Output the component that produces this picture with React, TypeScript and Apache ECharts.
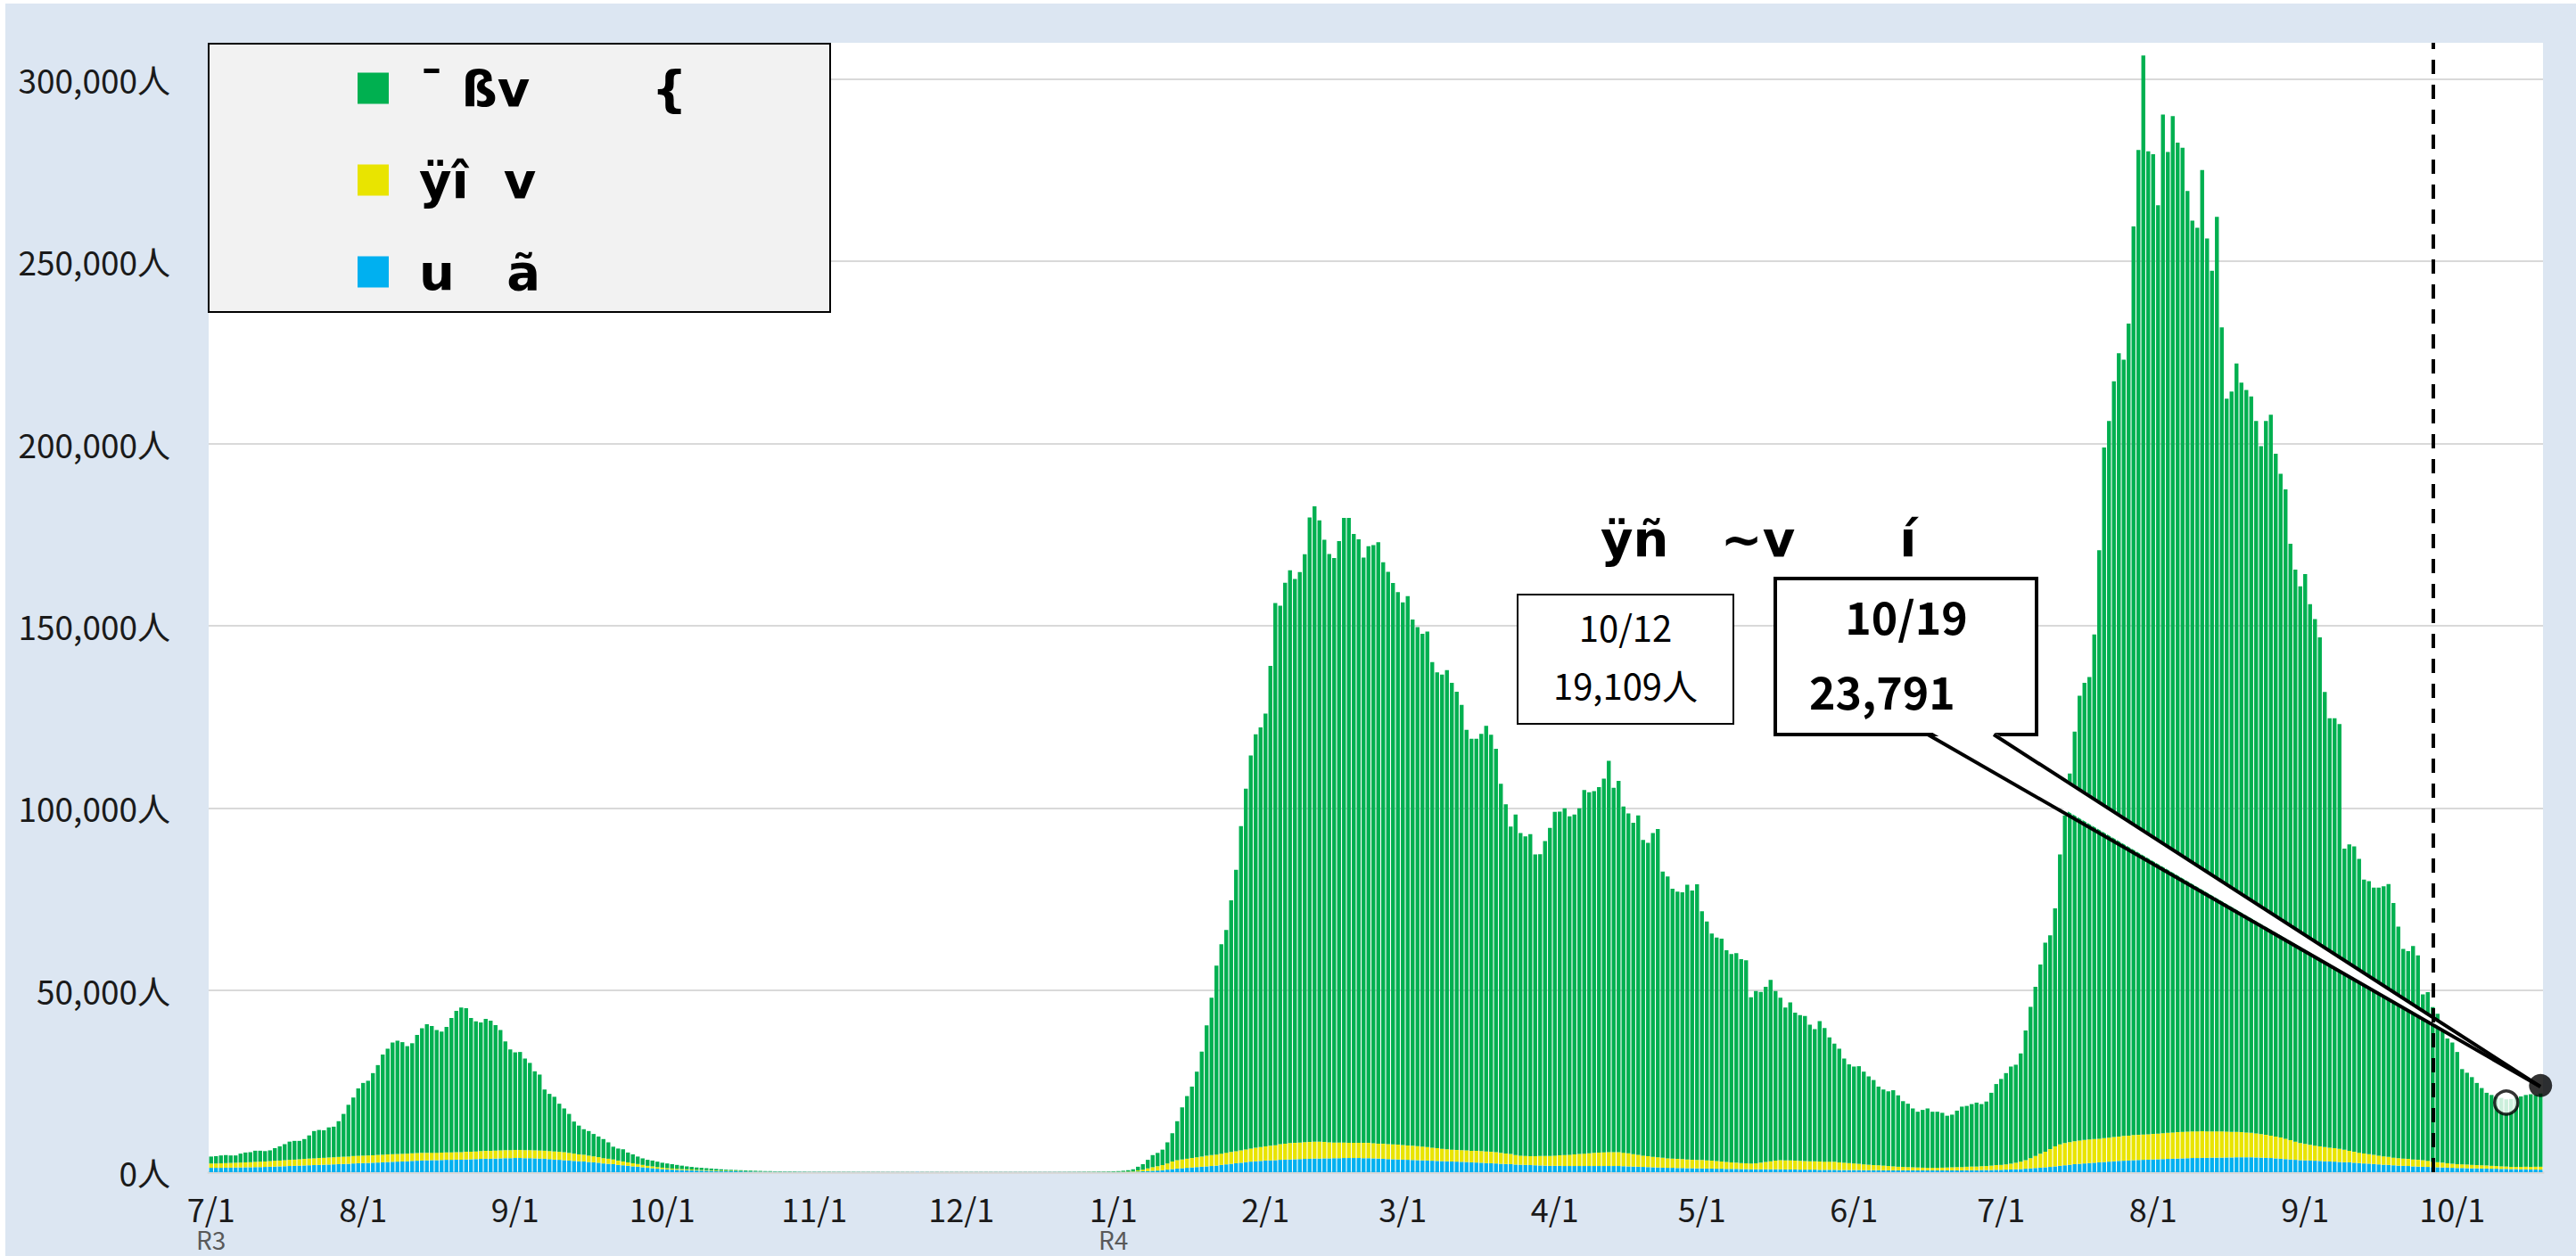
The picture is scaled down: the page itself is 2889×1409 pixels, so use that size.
import React, { useEffect, useRef } from "react";
import * as echarts from "echarts";

// ---- data (thousand persons per day), 2021-07-01 .. 2022-10-19 ----
const totalK = [
  // 2021-07
  4.3, 4.4, 4.6, 4.7, 4.6, 4.6, 5.1, 5.4, 5.5, 5.9, 5.9, 5.8, 6.0, 6.6, 7.1, 7.7, 8.4, 8.6, 8.6, 9.1, 10.1, 11.3, 11.6, 11.5, 12.3, 12.5, 14.0, 16.0, 18.5, 20.5, 23.0,
  // 2021-08
  24.5, 25.1, 27.2, 29.4, 32.3, 33.9, 35.6, 36.1, 35.7, 34.6, 35.4, 37.7, 39.5, 40.6, 40.1, 39.0, 38.6, 39.9, 42.3, 44.3, 45.2, 45.0, 42.3, 41.4, 41.1, 42.1, 41.6, 40.4, 39.0, 35.9, 33.7,
  // 2021-09
  32.9, 33.0, 31.2, 30.0, 27.7, 26.8, 22.7, 21.5, 20.7, 18.8, 17.5, 16.0, 13.9, 12.8, 11.8, 11.3, 10.5, 9.8, 9.1, 8.2, 7.0, 6.5, 6.3, 5.4, 4.9, 4.3, 3.8, 3.4, 3.2, 2.9,
  // 2021-10
  2.6, 2.4, 2.2, 2.0, 1.8, 1.6, 1.45, 1.3, 1.2, 1.1, 1.0, 0.9, 0.8, 0.7, 0.65, 0.6, 0.55, 0.5, 0.45, 0.4, 0.35, 0.3, 0.3, 0.25, 0.25, 0.2, 0.2, 0.2, 0.15, 0.15, 0.12,
  // 2021-11
  0.12, 0.12, 0.11, 0.11, 0.1, 0.1, 0.1, 0.1, 0.1, 0.09, 0.09, 0.09, 0.09, 0.09, 0.08, 0.08, 0.08, 0.08, 0.08, 0.08, 0.08, 0.08, 0.08, 0.08, 0.08, 0.08, 0.08, 0.08, 0.08, 0.08,
  // 2021-12
  0.08, 0.08, 0.08, 0.08, 0.08, 0.08, 0.08, 0.08, 0.08, 0.08, 0.08, 0.08, 0.08, 0.08, 0.08, 0.08, 0.08, 0.08, 0.08, 0.08, 0.09, 0.09, 0.1, 0.1, 0.11, 0.12, 0.13, 0.14, 0.16, 0.18, 0.2,
  // 2022-01
  0.25, 0.3, 0.4, 0.55, 0.8, 1.5, 2.2, 3.4, 4.7, 5.3, 6.2, 8.2, 10.7, 14.0, 17.8, 20.9, 23.5, 27.6, 33.1, 40.3, 47.9, 56.7, 62.6, 66.5, 74.6, 83.0, 95.0, 105.3, 114.4, 120.2, 122.1,
  // 2022-02
  125.9, 139.0, 156.2, 155.5, 161.8, 165.2, 162.8, 164.7, 169.6, 179.7, 182.8, 178.9, 173.6, 169.7, 168.6, 173.2, 179.6, 179.6, 175.2, 173.7, 168.7, 171.8, 172.1, 172.9, 167.4, 164.8, 161.7, 159.2,
  // 2022-03
  156.4, 158.1, 151.7, 149.6, 147.8, 148.4, 140.0, 137.2, 136.6, 137.8, 134.3, 131.9, 128.3, 121.4, 119.0, 119.0, 120.3, 122.5, 120.1, 116.2, 106.6, 101.0, 94.9, 98.2, 93.1, 92.2, 92.8, 87.2, 87.3, 90.9, 94.5,
  // 2022-04
  98.9, 99.0, 99.9, 97.7, 98.2, 99.9, 104.9, 104.3, 104.6, 105.7, 108.0, 112.9, 105.5, 107.4, 100.4, 98.5, 95.9, 97.9, 91.2, 90.4, 93.1, 94.2, 82.5, 81.2, 77.8, 77.0, 76.8, 78.9, 77.3, 79.0,
  // 2022-05
  71.6, 68.8, 65.5, 64.4, 64.1, 60.9, 59.9, 60.1, 58.5, 58.2, 48.0, 49.7, 49.5, 50.9, 52.8, 49.7, 47.9, 45.2, 46.6, 43.8, 43.1, 42.9, 40.5, 39.3, 41.5, 39.6, 37.0, 35.3, 33.9, 31.2, 29.6,
  // 2022-06
  29.0, 29.1, 27.6, 26.3, 25.3, 23.5, 22.7, 22.2, 22.5, 21.1, 19.5, 18.8, 17.5, 16.6, 17.1, 17.5, 16.6, 16.6, 16.3, 15.5, 15.8, 16.9, 18.0, 18.2, 18.7, 19.1, 18.7, 19.4, 21.8, 24.2,
  // 2022-07
  25.6, 27.2, 29.0, 29.5, 32.6, 38.9, 45.4, 50.9, 57.0, 63.0, 65.0, 72.4, 87.2, 97.9, 109.4, 120.9, 130.8, 134.3, 135.9, 147.6, 170.7, 198.9, 206.2, 217.1, 224.8, 223.0, 232.9, 259.6, 280.6, 306.5, 280.2,
  // 2022-08
  279.4, 265.4, 290.3, 280.0, 289.9, 282.6, 281.2, 269.3, 261.2, 259.2, 275.1, 256.3, 247.4, 262.2, 231.9, 212.3, 214.3, 222.0, 216.7, 214.7, 212.9, 206.2, 199.3, 206.2, 207.9, 197.2, 191.7, 187.4, 172.5, 165.4, 160.8,
  // 2022-09
  164.2, 155.9, 151.8, 146.8, 131.8, 124.6, 124.6, 123.0, 88.8, 90.0, 89.4, 86.0, 80.3, 79.9, 78.1, 78.1, 78.5, 79.1, 73.9, 67.4, 61.3, 60.7, 62.1, 59.5, 48.8, 49.4, 45.3, 43.5, 39.2, 36.7,
  // 2022-10
  35.6, 33.0, 28.3, 27.3, 26.1, 24.5, 23.1, 21.8, 21.2, 20.6, 20.4, 20.0, 20.1, 20.6, 20.8, 21.2, 21.4, 21.2, 21.6,
];

// blue series (thousand persons)
const hospitalK = [
  // 2021-07
  1.2, 1.2, 1.2, 1.25, 1.25, 1.3, 1.3, 1.35, 1.35, 1.4, 1.4, 1.45, 1.5, 1.55, 1.6, 1.65, 1.7, 1.75, 1.8, 1.85, 1.9, 1.95, 2.0, 2.05, 2.1, 2.15, 2.2, 2.25, 2.3, 2.4, 2.45,
  // 2021-08
  2.5, 2.55, 2.6, 2.65, 2.7, 2.8, 2.85, 2.9, 2.95, 3.0, 3.1, 3.15, 3.2, 3.25, 3.3, 3.3, 3.35, 3.4, 3.4, 3.45, 3.45, 3.5, 3.55, 3.6, 3.65, 3.7, 3.7, 3.75, 3.8, 3.85, 3.85,
  // 2021-09
  3.9, 3.9, 3.85, 3.85, 3.8, 3.75, 3.7, 3.6, 3.45, 3.4, 3.3, 3.2, 3.1, 3.0, 2.95, 2.8, 2.7, 2.6, 2.4, 2.3, 2.2, 2.0, 1.9, 1.75, 1.6, 1.5, 1.35, 1.2, 1.1, 0.95,
  // 2021-10
  0.85, 0.75, 0.7, 0.65, 0.6, 0.55, 0.5, 0.45, 0.42, 0.4, 0.37, 0.34, 0.31, 0.28, 0.26, 0.24, 0.22, 0.2, 0.19, 0.18, 0.16, 0.15, 0.14, 0.13, 0.12, 0.11, 0.1, 0.1, 0.09, 0.08, 0.07,
  // 2021-11
  0.06, 0.06, 0.05, 0.05, 0.05, 0.05, 0.05, 0.05, 0.05, 0.05, 0.05, 0.05, 0.05, 0.05, 0.05, 0.05, 0.05, 0.05, 0.05, 0.05, 0.05, 0.05, 0.05, 0.05, 0.05, 0.05, 0.05, 0.05, 0.05, 0.05,
  // 2021-12
  0.05, 0.05, 0.05, 0.05, 0.05, 0.05, 0.05, 0.05, 0.05, 0.05, 0.05, 0.05, 0.05, 0.05, 0.05, 0.05, 0.05, 0.05, 0.05, 0.05, 0.05, 0.05, 0.05, 0.05, 0.05, 0.05, 0.05, 0.05, 0.06, 0.06, 0.06,
  // 2022-01
  0.06, 0.07, 0.08, 0.1, 0.13, 0.18, 0.24, 0.3, 0.38, 0.45, 0.55, 0.7, 0.85, 1.0, 1.1, 1.2, 1.3, 1.4, 1.5, 1.6, 1.7, 1.8, 2.0, 2.15, 2.3, 2.45, 2.6, 2.75, 2.9, 3.0, 3.1,
  // 2022-02
  3.2, 3.25, 3.3, 3.4, 3.45, 3.5, 3.55, 3.6, 3.65, 3.7, 3.75, 3.75, 3.8, 3.8, 3.85, 3.85, 3.9, 3.9, 3.9, 3.9, 3.85, 3.85, 3.8, 3.75, 3.7, 3.6, 3.55, 3.5,
  // 2022-03
  3.45, 3.4, 3.35, 3.3, 3.25, 3.2, 3.15, 3.1, 3.05, 3.0, 2.95, 2.9, 2.85, 2.8, 2.7, 2.65, 2.6, 2.5, 2.45, 2.4, 2.3, 2.25, 2.2, 2.1, 2.05, 2.0, 1.95, 1.9, 1.85, 1.8, 1.75,
  // 2022-04
  1.75, 1.75, 1.7, 1.7, 1.7, 1.7, 1.7, 1.7, 1.7, 1.7, 1.7, 1.7, 1.7, 1.7, 1.65, 1.6, 1.55, 1.5, 1.45, 1.4, 1.35, 1.3, 1.25, 1.2, 1.2, 1.15, 1.15, 1.1, 1.1, 1.05,
  // 2022-05
  1.05, 1.0, 1.0, 0.95, 0.95, 0.9, 0.9, 0.9, 0.85, 0.85, 0.8, 0.8, 0.8, 0.8, 0.8, 0.8, 0.8, 0.75, 0.75, 0.75, 0.7, 0.7, 0.7, 0.7, 0.65, 0.65, 0.65, 0.65, 0.6, 0.6, 0.6,
  // 2022-06
  0.6, 0.6, 0.55, 0.55, 0.55, 0.55, 0.5, 0.5, 0.5, 0.5, 0.5, 0.5, 0.5, 0.5, 0.5, 0.5, 0.5, 0.5, 0.5, 0.5, 0.5, 0.5, 0.5, 0.55, 0.55, 0.55, 0.6, 0.6, 0.6, 0.65,
  // 2022-07
  0.65, 0.7, 0.75, 0.8, 0.85, 0.95, 1.05, 1.15, 1.25, 1.35, 1.45, 1.6, 1.75, 1.9, 2.05, 2.2, 2.3, 2.4, 2.5, 2.6, 2.7, 2.8, 2.9, 3.0, 3.1, 3.15, 3.2, 3.3, 3.35, 3.4, 3.45,
  // 2022-08
  3.5, 3.55, 3.6, 3.65, 3.7, 3.75, 3.8, 3.85, 3.9, 3.9, 3.95, 3.95, 4.0, 4.0, 4.0, 4.05, 4.05, 4.1, 4.1, 4.1, 4.1, 4.05, 4.0, 3.95, 3.9, 3.8, 3.7, 3.6, 3.5, 3.4, 3.3,
  // 2022-09
  3.25, 3.2, 3.15, 3.1, 3.0, 2.95, 2.9, 2.8, 2.75, 2.7, 2.6, 2.5, 2.4, 2.35, 2.25, 2.15, 2.05, 2.0, 1.9, 1.8, 1.75, 1.7, 1.6, 1.55, 1.5, 1.45, 1.4, 1.35, 1.3, 1.25,
  // 2022-10
  1.2, 1.15, 1.15, 1.1, 1.05, 1.05, 1.0, 1.0, 0.95, 0.95, 0.9, 0.9, 0.85, 0.85, 0.8, 0.8, 0.75, 0.75, 0.7,
];

// yellow series (thousand persons)
const hotelK = [
  // 2021-07
  1.2, 1.2, 1.25, 1.25, 1.3, 1.3, 1.35, 1.35, 1.4, 1.45, 1.5, 1.5, 1.55, 1.6, 1.6, 1.65, 1.7, 1.7, 1.75, 1.8, 1.85, 1.85, 1.9, 1.9, 1.95, 1.95, 2.0, 2.0, 2.0, 2.05, 2.05,
  // 2021-08
  2.05, 2.05, 2.05, 2.1, 2.1, 2.1, 2.1, 2.1, 2.1, 2.1, 2.1, 2.1, 2.1, 2.05, 2.05, 2.05, 2.05, 2.05, 2.05, 2.05, 2.05, 2.1, 2.1, 2.1, 2.15, 2.15, 2.15, 2.2, 2.2, 2.2, 2.2,
  // 2021-09
  2.2, 2.2, 2.2, 2.2, 2.2, 2.2, 2.2, 2.2, 2.25, 2.2, 2.2, 2.1, 2.0, 1.9, 1.85, 1.75, 1.65, 1.55, 1.45, 1.4, 1.3, 1.2, 1.05, 0.95, 0.85, 0.75, 0.65, 0.55, 0.5, 0.45,
  // 2021-10
  0.4, 0.35, 0.3, 0.28, 0.26, 0.24, 0.22, 0.2, 0.18, 0.17, 0.16, 0.15, 0.14, 0.13, 0.12, 0.11, 0.1, 0.09, 0.08, 0.08, 0.07, 0.06, 0.06, 0.05, 0.05, 0.04, 0.04, 0.04, 0.03, 0.03, 0.03,
  // 2021-11
  0.02, 0.02, 0.02, 0.02, 0.02, 0.02, 0.02, 0.02, 0.02, 0.02, 0.02, 0.02, 0.02, 0.02, 0.02, 0.02, 0.02, 0.02, 0.02, 0.02, 0.02, 0.02, 0.02, 0.02, 0.02, 0.02, 0.02, 0.02, 0.02, 0.02,
  // 2021-12
  0.02, 0.02, 0.02, 0.02, 0.02, 0.02, 0.02, 0.02, 0.02, 0.02, 0.02, 0.02, 0.02, 0.02, 0.02, 0.02, 0.02, 0.02, 0.02, 0.02, 0.02, 0.02, 0.02, 0.02, 0.02, 0.02, 0.03, 0.03, 0.03, 0.04, 0.04,
  // 2022-01
  0.04, 0.05, 0.07, 0.1, 0.15, 0.3, 0.45, 0.75, 1.0, 1.2, 1.4, 1.7, 2.1, 2.3, 2.4, 2.5, 2.6, 2.7, 2.8, 2.9, 3.0, 3.05, 3.1, 3.2, 3.25, 3.3, 3.4, 3.5, 3.6, 3.7, 3.8,
  // 2022-02
  3.9, 4.0, 4.1, 4.3, 4.4, 4.5, 4.5, 4.55, 4.6, 4.6, 4.6, 4.6, 4.5, 4.4, 4.3, 4.3, 4.25, 4.2, 4.2, 4.2, 4.2, 4.2, 4.15, 4.1, 4.1, 4.1, 4.1, 4.1,
  // 2022-03
  4.0, 3.95, 3.9, 3.85, 3.8, 3.7, 3.6, 3.5, 3.4, 3.3, 3.25, 3.2, 3.2, 3.2, 3.2, 3.2, 3.2, 3.2, 3.15, 3.1, 3.0, 2.9, 2.8, 2.6, 2.5, 2.45, 2.45, 2.5, 2.6, 2.65, 2.7,
  // 2022-04
  2.8, 2.9, 3.0, 3.1, 3.2, 3.3, 3.4, 3.5, 3.6, 3.7, 3.75, 3.8, 3.8, 3.8, 3.7, 3.6, 3.4, 3.3, 3.1, 3.0, 2.9, 2.8, 2.7, 2.6, 2.55, 2.5, 2.45, 2.4, 2.35, 2.3,
  // 2022-05
  2.3, 2.25, 2.2, 2.1, 2.0, 1.9, 1.8, 1.7, 1.65, 1.6, 1.6, 1.65, 1.8, 2.0, 2.2, 2.4, 2.5, 2.5, 2.5, 2.45, 2.4, 2.35, 2.3, 2.3, 2.3, 2.25, 2.25, 2.2, 2.1, 2.0, 1.9,
  // 2022-06
  1.8, 1.7, 1.6, 1.5, 1.4, 1.35, 1.3, 1.2, 1.1, 1.0, 0.95, 0.9, 0.85, 0.8, 0.75, 0.7, 0.7, 0.7, 0.75, 0.8, 0.85, 0.9, 0.9, 0.95, 1.0, 1.0, 1.05, 1.1, 1.2, 1.3,
  // 2022-07
  1.35, 1.45, 1.6, 1.8, 2.05, 2.35, 2.8, 3.3, 3.8, 4.3, 4.9, 5.5, 5.9, 6.1, 6.2, 6.3, 6.4, 6.45, 6.5, 6.5, 6.5, 6.55, 6.6, 6.65, 6.7, 6.8, 6.85, 6.9, 6.9, 6.95, 6.95,
  // 2022-08
  7.0, 7.05, 7.1, 7.2, 7.2, 7.25, 7.3, 7.3, 7.3, 7.3, 7.3, 7.25, 7.2, 7.2, 7.2, 7.1, 7.0, 6.95, 6.9, 6.8, 6.7, 6.6, 6.45, 6.3, 6.15, 6.0, 5.85, 5.6, 5.3, 5.0, 4.7,
  // 2022-09
  4.5, 4.3, 4.15, 4.0, 3.9, 3.8, 3.7, 3.6, 3.4, 3.2, 3.0, 2.85, 2.75, 2.6, 2.5, 2.4, 2.3, 2.2, 2.1, 2.05, 2.0, 1.95, 1.9, 1.85, 1.8, 1.7, 1.5, 1.4, 1.3, 1.2,
  // 2022-10
  1.1, 1.05, 1.0, 1.0, 0.95, 0.9, 0.9, 0.85, 0.8, 0.75, 0.7, 0.65, 0.6, 0.6, 0.65, 0.7, 0.7, 0.75, 0.8,
];

const monthTicks = [
  "2021-07-01", "2021-08-01", "2021-09-01", "2021-10-01", "2021-11-01", "2021-12-01",
  "2022-01-01", "2022-02-01", "2022-03-01", "2022-04-01", "2022-05-01", "2022-06-01",
  "2022-07-01", "2022-08-01", "2022-09-01", "2022-10-01",
];
const eraLabels: Record<string, string> = { "2021-07-01": "R3", "2022-01-01": "R4" };

const seriesNames = [
  "¯\u00a0ßv\u00a0\u00a0\u00a0\u00a0\u00a0\u00a0\u00a0{",
  "ÿî\u00a0\u00a0v",
  "u\u00a0\u00a0\u00a0ã",
];
const headline = "ÿñ\u00a0\u00a0\u00a0~v\u00a0\u00a0\u00a0\u00a0\u00a0\u00a0í";
const pointA = { date: "2022-10-12", value: 19109, label1: "10/12", label2: "19,109人" };
const pointB = { date: "2022-10-19", value: 23791, label1: "10/19", label2: "23,791" };
const boundaryDate = "2022-09-27";

const colors = { green: "#00B050", yellow: "#E9E400", blue: "#00B0F0" };

function buildDates(): string[] {
  const out: string[] = [];
  const d = new Date(Date.UTC(2021, 6, 1));
  for (let i = 0; i < totalK.length; i++) {
    out.push(d.toISOString().slice(0, 10));
    d.setUTCDate(d.getUTCDate() + 1);
  }
  return out;
}

const fmt = (v: number) => String(v).replace(/\B(?=(\d{3})+(?!\d))/g, ",");

export default function App() {
  const ref = useRef<HTMLDivElement>(null);
  useEffect(() => {
    document.body.style.margin = "0";
    if (!ref.current) return;
    const chart = echarts.init(ref.current, undefined, { renderer: "svg" });
    const dates = buildDates();
    const blue = hospitalK.map((v) => Math.round(v * 1000));
    const yellow = hotelK.map((v) => Math.round(v * 1000));
    const green = totalK.map((v, i) => Math.max(0, Math.round(v * 1000) - blue[i] - yellow[i]));
    const jp = "'Noto Sans CJK JP', 'Noto Sans', sans-serif";

    chart.setOption({
      animation: false,
      backgroundColor: "#DCE6F2",
      grid: {
        left: 228, top: 44, width: 2618, height: 1267,
        show: true, backgroundColor: "#ffffff", borderWidth: 0,
      },
      legend: {
        data: seriesNames,
        orient: "vertical",
        left: 395, top: 67, padding: 0,
        itemWidth: 35, itemHeight: 35, itemGap: 47,
        icon: "rect", selectedMode: false,
        textStyle: {
          fontFamily: "'DejaVu Sans', sans-serif", fontWeight: "bold", fontSize: 56,
          color: "#000", padding: [0, 0, 0, 29],
        },
      },
      xAxis: {
        type: "category",
        data: dates,
        boundaryGap: true,
        axisLine: { lineStyle: { color: "#D9D9D9", width: 3 } },
        axisTick: {
          interval: (_i: number, v: string) => monthTicks.includes(v),
          length: 13, lineStyle: { color: "#D9D9D9", width: 2 },
        },
        axisLabel: {
          interval: (_i: number, v: string) => monthTicks.includes(v),
          formatter: (v: string) => {
            const [, m, d] = v.split("-");
            const base = `${Number(m)}/${Number(d)}`;
            return eraLabels[v] ? `${base}\n{r|${eraLabels[v]}}` : base;
          },
          fontFamily: jp, fontSize: 36, color: "#1a1a1a", margin: 22, lineHeight: 36,
          rich: { r: { fontFamily: jp, fontSize: 28, color: "#595959", lineHeight: 34 } },
        },
        splitLine: { show: false },
      },
      yAxis: {
        type: "value",
        min: 0, max: 310000, interval: 50000,
        axisLine: { show: false },
        axisTick: { show: false },
        axisLabel: {
          formatter: (v: number) => `${fmt(v)}人`,
          fontFamily: jp, fontSize: 37, color: "#1a1a1a", margin: 43, showMaxLabel: false,
        },
        splitLine: { show: true, showMaxLine: false, lineStyle: { color: "#D9D9D9", width: 2 } },
      },
      series: [
        {
          name: seriesNames[2], type: "bar", stack: "t", data: blue,
          itemStyle: { color: colors.blue }, barCategoryGap: "20%",
        },
        {
          name: seriesNames[1], type: "bar", stack: "t", data: yellow,
          itemStyle: { color: colors.yellow }, barCategoryGap: "20%",
        },
        {
          name: seriesNames[0], type: "bar", stack: "t", data: green,
          itemStyle: { color: colors.green }, barCategoryGap: "20%",
          markLine: {
            silent: true, symbol: ["none", "none"], label: { show: false },
            lineStyle: { color: "#000", width: 4, type: [16, 12] },
            data: [{ xAxis: boundaryDate }],
          },
        },
        {
          type: "scatter", z: 10,
          data: [
            { value: [pointA.date, pointA.value], symbolSize: 26, itemStyle: { color: "#fff", borderColor: "#000", borderWidth: 3.5 } },
            { value: [pointB.date, pointB.value], symbolSize: 26, itemStyle: { color: "#000", borderColor: "#000", borderWidth: 0 } },
          ],
          silent: true,
        },
      ],
      graphic: [
        {
          type: "rect", z: 3, shape: { x: 228, y: 45, width: 697, height: 301 },
          style: { fill: "#F2F2F2", stroke: "#000", lineWidth: 2 },
        },
        {
          type: "text", z: 6, x: 1789, y: 600,
          style: {
            text: headline, fontFamily: "'DejaVu Sans', sans-serif", fontWeight: "bold",
            fontSize: 56, fill: "#000", verticalAlign: "middle",
          },
        },
        {
          type: "rect", z: 5, shape: { x: 1696, y: 663, width: 242, height: 145 },
          style: { fill: "#fff", stroke: "#000", lineWidth: 2 },
        },
        {
          type: "text", z: 6, x: 1817, y: 699,
          style: { text: pointA.label1, fontFamily: jp, fontSize: 40, fill: "#000", align: "center", verticalAlign: "middle" },
        },
        {
          type: "text", z: 6, x: 1817, y: 764,
          style: { text: pointA.label2, fontFamily: jp, fontSize: 40, fill: "#000", align: "center", verticalAlign: "middle" },
        },
        {
          type: "rect", z: 5, shape: { x: 1985, y: 645, width: 293, height: 175 },
          style: { fill: "#fff", stroke: "#000", lineWidth: 4 },
        },
        {
          type: "polygon", z: 5,
          shape: { points: [[2158, 816], [2843, 1215], [2228, 816]] },
          style: { fill: "#fff", stroke: "none" },
        },
        {
          type: "polyline", z: 5,
          shape: { points: [[2156, 820], [2843, 1215]] },
          style: { stroke: "#000", lineWidth: 4, fill: "none" },
        },
        {
          type: "polyline", z: 5,
          shape: { points: [[2230, 820], [2843, 1215]] },
          style: { stroke: "#000", lineWidth: 4, fill: "none" },
        },
        {
          type: "text", z: 6, x: 2132, y: 686,
          style: { text: pointB.label1, fontFamily: jp, fontWeight: "bold", fontSize: 50, fill: "#000", align: "center", verticalAlign: "middle" },
        },
        {
          type: "text", z: 6, x: 2023, y: 770,
          style: { text: pointB.label2, fontFamily: jp, fontWeight: "bold", fontSize: 50, fill: "#000", align: "left", verticalAlign: "middle" },
        },
      ],
    });
    return () => chart.dispose();
  }, []);
  return (
    <div
      ref={ref}
      style={{ position: "absolute", left: 6, top: 4, width: 2883, height: 1405 }}
    />
  );
}
